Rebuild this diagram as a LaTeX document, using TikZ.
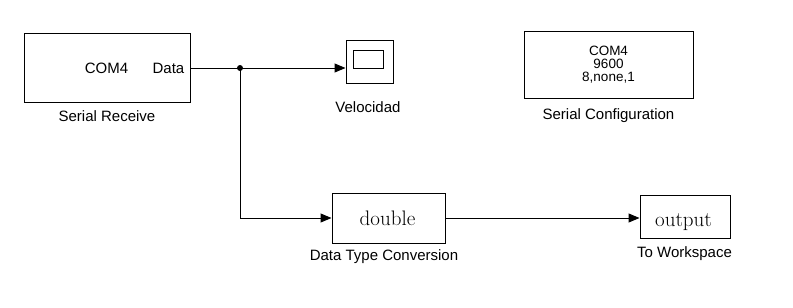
\documentclass[tikz,border=0pt]{standalone}
\usepackage{fontspec}
\newfontfamily\arial{Liberation Sans}
\usetikzlibrary{arrows.meta,shadows}

\tikzset{
  blk/.style={draw=black, line width=1pt, fill=white, inner sep=0pt,
    drop shadow={shadow xshift=1.4pt, shadow yshift=-1.4pt, fill=black!45, opacity=0.6}},
  lbl/.style={font=\arial\fontsize{15}{14}\selectfont, inner sep=0pt, anchor=base},
  cfgtext/.style={font=\arial\fontsize{13.5}{13}\selectfont, inner sep=0pt, anchor=base},
  serif/.style={font=\fontsize{21}{22}\selectfont, inner sep=0pt, anchor=base},
  sig/.style={line width=1pt, draw=black},
  sigarrow/.style={sig, -{Triangle[length=11pt,width=9pt]}},
}

\begin{document}
\begin{tikzpicture}[x=1pt,y=-1pt]
  \useasboundingbox (0,0) rectangle (793,308);
  \fill[white] (0,0) rectangle (793,308);

  % Serial Receive block
  \node[blk, minimum width=166pt, minimum height=69pt] (sr) at (107,67.5) {};
  \node[lbl] (srcom) at (106.5,73) {COM4};
  \node[lbl, anchor=base east] (srdata) at (184.5,73) {Data};
  \node[lbl] (srname) at (107,121) {Serial Receive};

  % Scope block
  \node[blk, minimum width=47pt, minimum height=43pt] (scope) at (369.5,61.5) {};
  \draw[line width=0.9pt] (353,50) rectangle (383,68);
  \node[lbl] (scopename) at (368,112) {Velocidad};

  % Serial Configuration block
  \node[blk, minimum width=169pt, minimum height=67pt] (cfg) at (608.5,64.5) {};
  \node[cfgtext] (cfg1) at (608.5,55) {COM4};
  \node[cfgtext] (cfg2) at (608.5,68) {9600};
  \node[cfgtext] (cfg3) at (608.5,81) {8,none,1};
  \node[lbl] (cfgname) at (608.5,119) {Serial Configuration};

  % Data Type Conversion block
  \node[blk, minimum width=113pt, minimum height=50pt] (dtc) at (388.5,218) {};
  \node[serif] (dtctext) at (387.5,225.5) {double};
  \node[lbl] (dtcname) at (384,260) {Data Type Conversion};

  % To Workspace block
  \node[blk, minimum width=90pt, minimum height=43pt] (ws) at (685,216.5) {};
  \node[serif] (wstext) at (683.5,226.5) {output};
  \node[lbl] (wsname) at (684.5,257) {To Workspace};

  % Signal lines
  \coordinate (jn) at (240,68);
  \coordinate (bend) at (240,218);
  \draw[sig] (sr.east |- jn) -- (jn);
  \draw[sigarrow] (jn) -- (scope.west |- jn);
  \draw[sigarrow] (jn) -- (bend) -- (dtc.west |- bend);
  \draw[sigarrow] (dtc.east) -- (ws.west |- dtc.east);
  \fill (jn) circle (3pt);
\end{tikzpicture}
\end{document}
